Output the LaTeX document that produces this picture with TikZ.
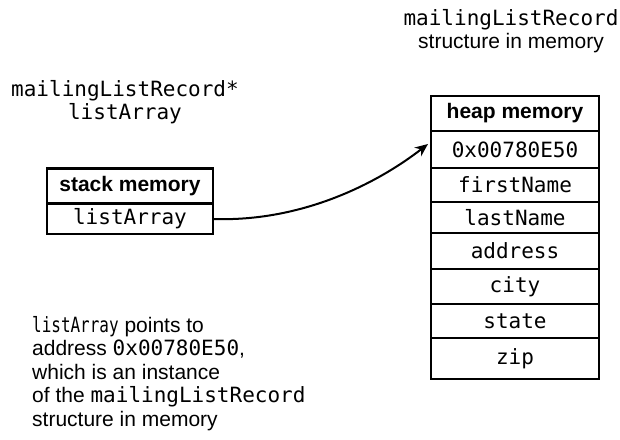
\documentclass[tikz,border=0pt]{standalone}
\usepackage{fontspec}
\setmainfont{Liberation Sans}
\setsansfont{Liberation Sans}
\setmonofont{DejaVu Sans Mono}
\newfontfamily\narrowmono[FakeStretch=0.76]{DejaVu Sans Mono}
\usetikzlibrary{arrows.meta}
\newcommand{\mtt}[1]{{\fontsize{21}{23.5}\ttfamily #1}}
\begin{document}
\begin{tikzpicture}[x=1pt,y=-1pt,
  txt/.style={font=\fontsize{21}{23.5}\selectfont, inner sep=0pt},
  mono/.style={font=\fontsize{21}{23.5}\ttfamily, inner sep=0pt},
  hdr/.style={font=\fontsize{21}{23.5}\selectfont\bfseries},
  cell/.style={draw, line width=2.5pt, minimum width=#1, inner sep=0pt, outer sep=0pt},
  link/.style={line width=2pt, -{Stealth[length=13pt,width=11pt]}}]
\useasboundingbox (0,0) rectangle (620,439);
\fill[white] (0,0) rectangle (620,439);
% labels
\node[mono, align=center] (ptrlbl) at (125,102) {mailingListRecord*\\listArray};
\node[txt, align=center] (heaplbl) at (511,31)
  {\mtt{mailingListRecord}\\structure in memory};
% stack box
\node[cell=166pt, minimum height=35pt, hdr] (sh) at (130,186) {stack memory};
\node[cell=166pt, minimum height=30pt, mono] (sv) at (130,219) {listArray};
% heap box
\node[cell=168pt, minimum height=35pt, hdr] (hh) at (515,113.5) {heap memory};
\node[cell=168pt, minimum height=37pt, mono] (h1) at (515,149.5) {0x00780E50};
\node[cell=168pt, minimum height=34pt, mono] (h2) at (515,185) {firstName};
\node[cell=168pt, minimum height=31pt, mono] (h3) at (515,217.5) {lastName};
\node[cell=168pt, minimum height=36pt, mono] (h4) at (515,251) {address};
\node[cell=168pt, minimum height=35pt, mono] (h5) at (515,286.5) {city};
\node[cell=168pt, minimum height=34pt, mono] (h6) at (515,321) {state};
\node[cell=168pt, minimum height=41pt, mono] (h7) at (515,358.5) {zip};
% arrow
\coordinate (tip) at (428,144);
\draw[link] (sv.east) .. controls (300,222) and (375,185) .. (tip);
% note
\node[anchor=north west, align=left, txt] (note) at (32,316)
  {{\fontsize{21}{23.5}\narrowmono listArray} points to\\
   address \mtt{0x00780E50},\\
   which is an instance\\
   of the \mtt{mailingListRecord}\\
   structure in memory};
\end{tikzpicture}
\end{document}
